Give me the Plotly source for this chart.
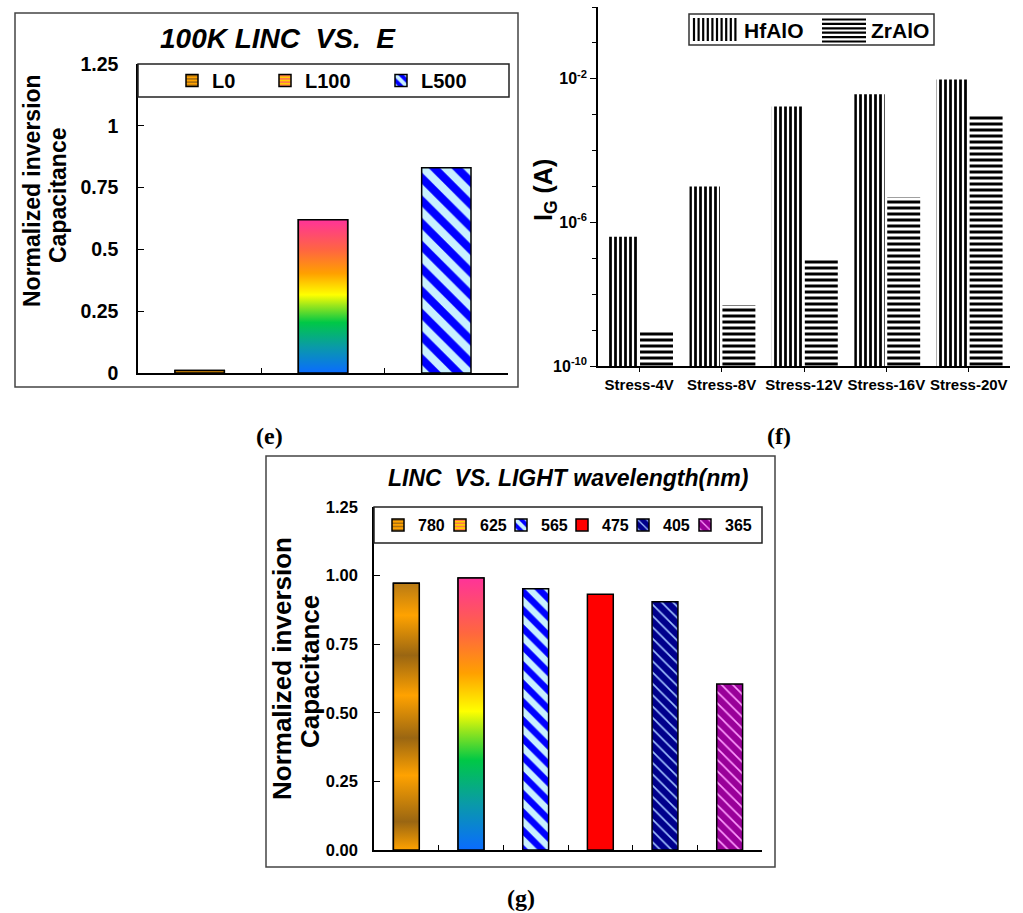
import numpy as np
import plotly.graph_objects as go

W, H = 1023, 913
FONT = "Liberation Sans, Arial, sans-serif"
SERIF = "Liberation Serif, Times New Roman, serif"

# ---------------- data ----------------
# (e) normalized inversion capacitance after 100K cycles vs. energy
e_labels = ["L0", "L100", "L500"]
e_values = [0.01, 0.62, 0.83]
e_ticks = [0, 0.25, 0.5, 0.75, 1, 1.25]

# (f) gate leakage current after stress
f_categories = ["Stress-4V", "Stress-8V", "Stress-12V", "Stress-16V", "Stress-20V"]
f_hfalo = [4e-7, 1e-5, 1.7e-3, 3.7e-3, 9.5e-3]
f_zralo = [1e-9, 5e-9, 9e-8, 5e-6, 1e-3]
f_tick_vals = [1e-10, 1e-6, 1e-2]
f_tick_text = ["10<sup>-10</sup>", "10<sup>-6</sup>", "10<sup>-2</sup>"]
f_minor_vals = [1e-10, 1e-9, 1e-8, 1e-7, 1e-6, 1e-5, 1e-4, 1e-3, 1e-2, 1e-1, 1e0]

# (g) normalized inversion capacitance vs. light wavelength (nm)
g_labels = ["780", "625", "565", "475", "405", "365"]
g_values = [0.972, 0.991, 0.952, 0.932, 0.905, 0.605]
g_ticks = [0, 0.25, 0.5, 0.75, 1.0, 1.25]


def px(x):
    return x / W


def py(y):
    return 1 - y / H


# ---------------- fill styles ----------------
BANDS = [[0.0, "#ffa200"], [0.106, "#9a6612"], [0.28, "#ffa200"], [0.42, "#9a6612"],
         [0.58, "#ffa200"], [0.73, "#9a6612"], [0.88, "#ffa200"], [1.0, "#b87a14"]]
RAINBOW = [[0.0, "#0a6cff"], [0.17, "#0a9aa8"], [0.33, "#00c846"], [0.44, "#9ae61c"],
           [0.51, "#ffff00"], [0.65, "#ffa000"], [0.8, "#ff6640"], [1.0, "#ff3399"]]

# legend swatch looks for the gradient-filled bars
BAND_SWATCH = dict(color="#ffa200",
                   pattern=dict(shape="-", fgcolor="#9a6612", bgcolor="#ffa200", size=4,
                                solidity=0.4, fillmode="replace"))
RAINBOW_SWATCH = dict(color="#ffc000",
                      pattern=dict(shape="-", fgcolor="#ff4080", bgcolor="#ffd000", size=4,
                                   solidity=0.3, fillmode="replace"))

styles = {
    "L0": dict(kind="gradient", scale=BANDS, swatch=BAND_SWATCH),
    "L100": dict(kind="gradient", scale=RAINBOW, swatch=RAINBOW_SWATCH),
    "L500": dict(kind="pattern", bg="#0000ff", fg="#c8f0ff", shape="\\", size=16, sol=0.5),
    "780": dict(kind="gradient", scale=BANDS, swatch=BAND_SWATCH),
    "625": dict(kind="gradient", scale=RAINBOW, swatch=RAINBOW_SWATCH),
    "565": dict(kind="pattern", bg="#0000ff", fg="#c8f0ff", shape="\\", size=13, sol=0.5),
    "475": dict(kind="solid", color="#ff0000"),
    "405": dict(kind="pattern", bg="#00008c", fg="#a0c0ff", shape="\\", size=8, sol=0.2),
    "365": dict(kind="pattern", bg="#990099", fg="#ff9cff", shape="\\", size=8, sol=0.2),
}

# legend swatch centres (px) for each entry of (e) and (g)
e_swatch_x = [196, 289, 405]
g_swatch_x = [402, 464, 525, 586, 647, 709]

BAR_W = 0.4
fig = go.Figure()
legend_layout = {}
legend_count = [0]


def new_legend(x_center, y_center, size):
    legend_count[0] += 1
    name = "legend" if legend_count[0] == 1 else f"legend{legend_count[0]}"
    legend_layout[name] = dict(
        orientation="h", x=px(x_center - 24), y=py(y_center), xanchor="left",
        yanchor="middle", bgcolor="rgba(0,0,0,0)", borderwidth=0,
        font=dict(size=size, family=FONT, color="black", weight="bold"))
    return name


def add_bars(labels, values, xa, ya, swatch_x, legend_y, legend_size):
    for i, (lab, val) in enumerate(zip(labels, values)):
        st = styles[lab]
        marker = dict(line=dict(color="black", width=1.5))
        if st["kind"] == "pattern":
            marker["color"] = st["bg"]
            marker["pattern"] = dict(shape=st["shape"], fgcolor=st["fg"], bgcolor=st["bg"],
                                     size=st["size"], solidity=st["sol"], fillmode="replace")
        elif st["kind"] == "solid":
            marker["color"] = st["color"]
        else:
            marker.update(st["swatch"])
        leg = new_legend(swatch_x[i], legend_y, legend_size)
        fig.add_trace(go.Bar(x=[i], y=[val], name=lab, width=BAR_W, offset=-BAR_W / 2,
                             marker=marker, xaxis=xa, yaxis=ya, legend=leg))
        if st["kind"] == "gradient":
            # gradient body of the same bar, filled from 0 up to its value
            x0, x1 = i - BAR_W / 2, i + BAR_W / 2
            fig.add_trace(go.Scatter(
                x=[x0, x1, x1, x0, x0], y=[0, 0, val, val, 0], mode="lines",
                fill="toself",
                fillgradient=dict(type="vertical", colorscale=st["scale"], start=0, stop=val),
                line=dict(color="black", width=1.5), hoverinfo="skip",
                showlegend=False, xaxis=xa, yaxis=ya))


add_bars(e_labels, e_values, "x", "y", e_swatch_x, 80.5, 20)
add_bars(g_labels, g_values, "x3", "y3", g_swatch_x, 525, 16)

# (f) grouped hatched bars on a log axis
fig.add_trace(go.Bar(
    x=f_categories, y=f_hfalo, name="HfAlO", offset=-0.39, width=0.37,
    marker=dict(color="white", line=dict(width=0),
                pattern=dict(shape="|", fgcolor="black", bgcolor="white", size=5,
                             solidity=0.55, fillmode="replace")),
    xaxis="x2", yaxis="y2", showlegend=False))
fig.add_trace(go.Bar(
    x=f_categories, y=f_zralo, name="ZrAlO", offset=0.01, width=0.40,
    marker=dict(color="white", line=dict(width=0),
                pattern=dict(shape="-", fgcolor="black", bgcolor="white", size=6,
                             solidity=0.5, fillmode="replace")),
    xaxis="x2", yaxis="y2", showlegend=False))

# ---------------- axes ----------------
bold = dict(family=FONT, color="black", weight="bold")

common = dict(showline=True, linecolor="black", linewidth=1.5, showgrid=False,
              zeroline=False, fixedrange=True, automargin=False)
fig.update_layout(
    xaxis=dict(domain=[px(138), px(508)], range=[-0.5, 2.5], tickvals=[0.5, 1.5, 2.5],
               ticks="inside", ticklen=5, tickcolor="black", showticklabels=False,
               anchor="y", **common),
    yaxis=dict(domain=[py(373), py(64)], range=[0, 1.25], tickvals=e_ticks,
               ticks="inside", ticklen=6, tickcolor="black", ticklabelstandoff=14,
               tickfont=dict(size=19.5, **bold), anchor="x", **common),
    xaxis2=dict(domain=[px(598), px(1010)], range=[-0.5, 4.5], type="category",
                ticks="outside", ticklen=4, tickcolor="black",
                tickfont=dict(size=15, **bold), anchor="y2", **common),
    yaxis2=dict(domain=[py(366), py(7)], type="log", range=[-10, 0],
                tickmode="array", tickvals=f_tick_vals, ticktext=f_tick_text,
                ticks="outside", ticklen=6, tickcolor="black",
                minor=dict(tickmode="array", tickvals=f_minor_vals, ticks="outside",
                           ticklen=4, tickcolor="black", showgrid=False),
                tickfont=dict(size=16, **bold), anchor="x2", **common),
    xaxis3=dict(domain=[px(374), px(762)], range=[-0.5, 5.5],
                tickvals=[0.5, 1.5, 2.5, 3.5, 4.5, 5.5],
                ticks="inside", ticklen=5, tickcolor="black", showticklabels=False,
                anchor="y3", **common),
    yaxis3=dict(domain=[py(850), py(507)], range=[0, 1.25], tickvals=g_ticks,
                tickformat=".2f", ticks="inside", ticklen=6, tickcolor="black",
                ticklabelstandoff=11, tickfont=dict(size=16.5, **bold), anchor="x3",
                **common),
)
fig.update_layout(**legend_layout)

shapes = []
# outer frames of panels (e) and (g)
shapes.append(dict(type="rect", xref="paper", yref="paper", x0=px(15), x1=px(518),
                   y0=py(387), y1=py(13), line=dict(color="#444", width=1.5)))
shapes.append(dict(type="rect", xref="paper", yref="paper", x0=px(266), x1=px(775),
                   y0=py(867), y1=py(456), line=dict(color="#444", width=1.5)))
# legend boxes of (e) and (g)
shapes.append(dict(type="rect", xref="paper", yref="paper", x0=px(138), x1=px(509),
                   y0=py(97), y1=py(64), fillcolor="white",
                   line=dict(color="#222", width=1.5), layer="above"))
shapes.append(dict(type="rect", xref="paper", yref="paper", x0=px(374), x1=px(762),
                   y0=py(543), y1=py(507), fillcolor="white",
                   line=dict(color="#222", width=1.5), layer="above"))
# legend of (f): frame plus hatched swatches
shapes.append(dict(type="rect", xref="paper", yref="paper", x0=px(689), x1=px(934),
                   y0=py(45), y1=py(14), fillcolor="white",
                   line=dict(color="#333", width=1.5), layer="above"))
for xv in np.arange(694, 739, 4.6):
    shapes.append(dict(type="line", xref="paper", yref="paper", x0=px(xv), x1=px(xv),
                       y0=py(41), y1=py(18), line=dict(color="black", width=2.2),
                       layer="above"))
for yv in np.arange(19.5, 42, 4.4):
    shapes.append(dict(type="line", xref="paper", yref="paper", x0=px(822), x1=px(866),
                       y0=py(yv), y1=py(yv), line=dict(color="black", width=2.2),
                       layer="above"))
fig.update_layout(shapes=shapes)

ital = dict(family=FONT, color="black", weight="bold", style="italic")
annotations = [
    dict(text="100K LINC\u00a0 VS.\u00a0 E", x=px(278), y=py(39), font=dict(size=28, **ital)),
    dict(text="LINC\u00a0 VS. LIGHT wavelength(nm)", x=px(568), y=py(478),
         font=dict(size=23, **ital)),
    # y-axis titles, rotated
    dict(text="Normalized inversion", x=px(32), y=py(191), textangle=-90,
         font=dict(size=23, **bold)),
    dict(text="Capacitance", x=px(58), y=py(195), textangle=-90,
         font=dict(size=23, **bold)),
    dict(text="I<sub>G</sub> (A)", x=px(545), y=py(190), textangle=-90,
         font=dict(size=25, **bold)),
    dict(text="Normalized inversion", x=px(282), y=py(669), textangle=-90,
         font=dict(size=26, **bold)),
    dict(text="Capacitance", x=px(310), y=py(672), textangle=-90,
         font=dict(size=26, **bold)),
    # legend labels of (f)
    dict(text="HfAlO", x=px(742), y=py(30), xanchor="left", font=dict(size=21, **bold)),
    dict(text="ZrAlO", x=px(869), y=py(30), xanchor="left", font=dict(size=21, **bold)),
    # panel captions
    dict(text="(e)", x=px(269), y=py(436),
         font=dict(size=24, family=SERIF, color="black", weight="bold")),
    dict(text="(f)", x=px(779), y=py(436),
         font=dict(size=24, family=SERIF, color="black", weight="bold")),
    dict(text="(g)", x=px(521), y=py(898),
         font=dict(size=24, family=SERIF, color="black", weight="bold")),
]
for a in annotations:
    a.setdefault("xanchor", "center")
    a.update(xref="paper", yref="paper", showarrow=False, yanchor="middle")
fig.update_layout(annotations=annotations)

fig.update_layout(
    width=W, height=H, autosize=False,
    margin=dict(l=0, r=0, t=0, b=0, pad=0, autoexpand=False),
    paper_bgcolor="white", plot_bgcolor="white", barmode="overlay",
    font=dict(family=FONT, color="black"), hovermode=False,
)

fig.write_html("out.html", config=dict(displayModeBar=False))
